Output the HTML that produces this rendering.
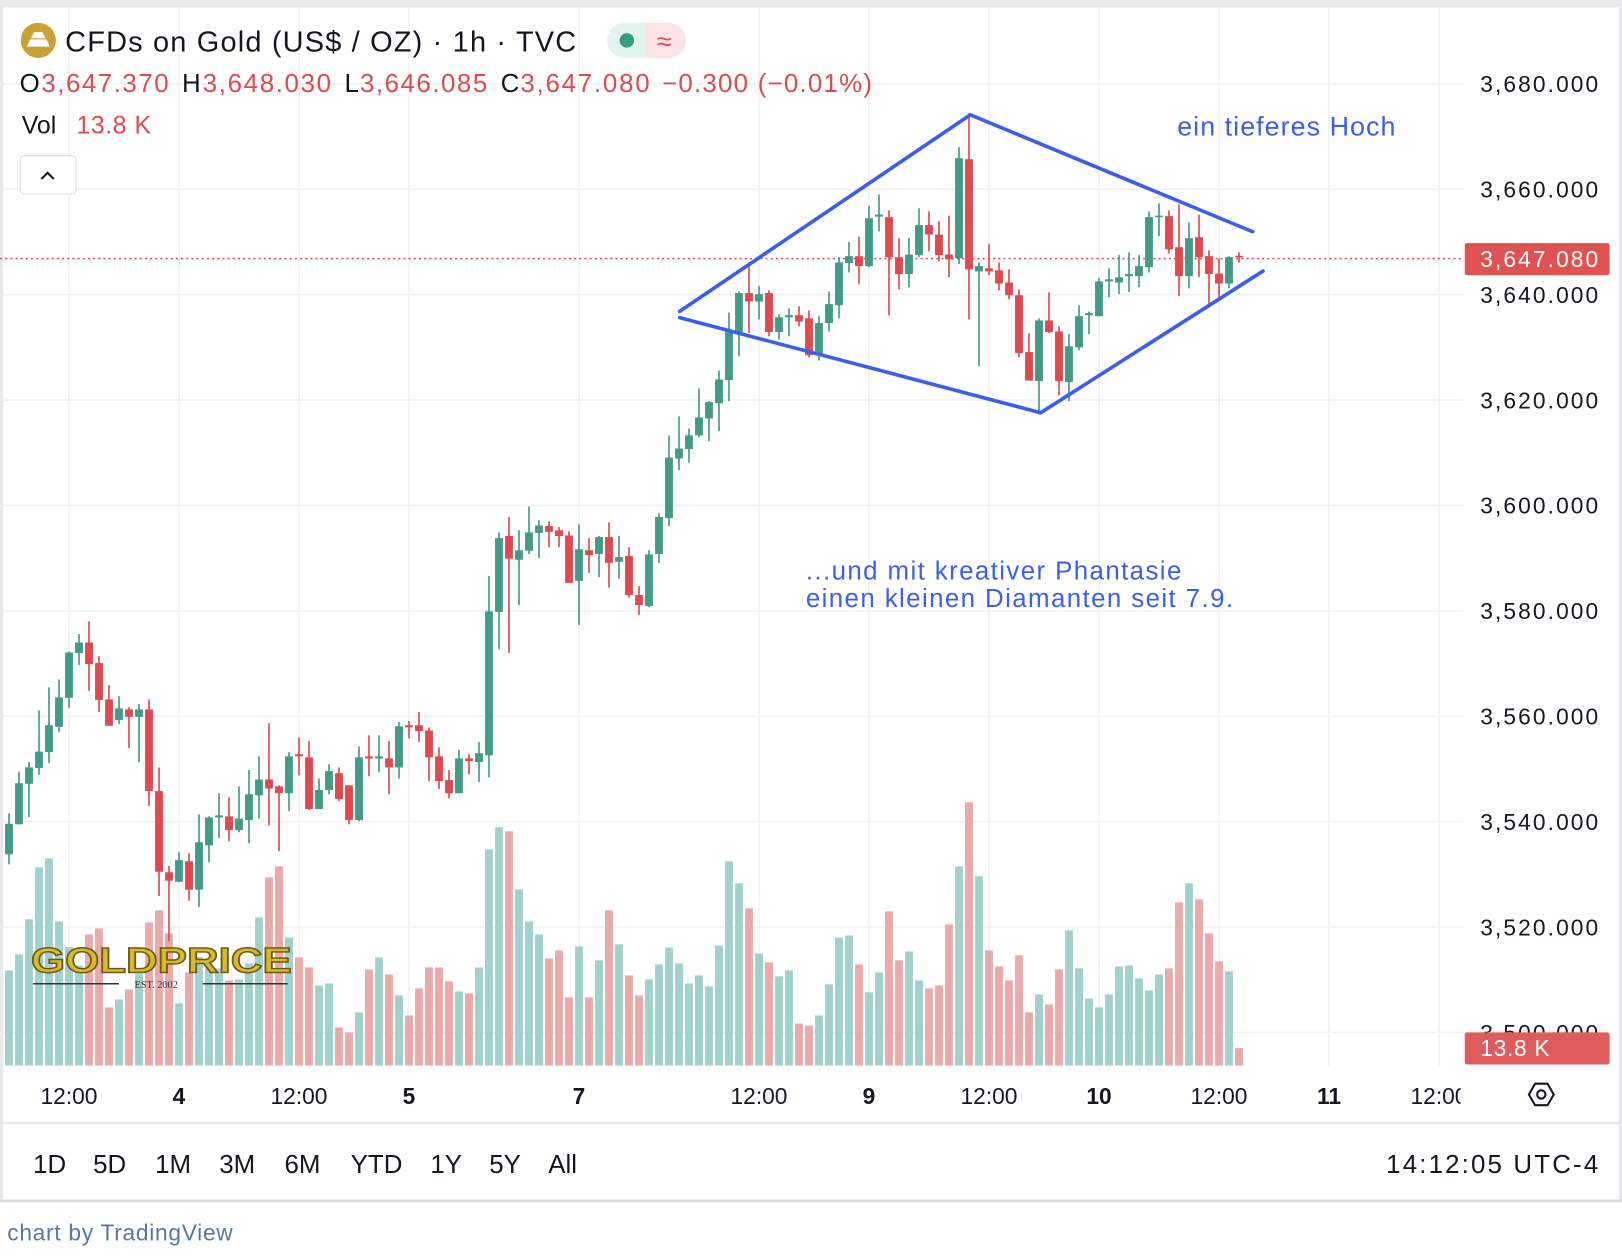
<!DOCTYPE html>
<html><head><meta charset="utf-8"><style>
html,body{margin:0;padding:0;background:#fff;}
svg{display:block;font-family:"Liberation Sans",Arial,sans-serif;}
</style></head><body>
<svg id="chart" width="1622" height="1260" viewBox="0 0 1568 1218" xmlns="http://www.w3.org/2000/svg">
<rect x="0" y="0" width="1568" height="1218" fill="#fff"/>
<rect x="0" y="0" width="1568" height="7" fill="#e9e9ec"/>
<rect x="0" y="0" width="3" height="1162" fill="#e9e9ec"/>
<rect x="1565" y="0" width="3" height="1162" fill="#e9e9ec"/>
<line x1="0" y1="1085.5" x2="1568" y2="1085.5" stroke="#e6e6e9" stroke-width="2"/>
<line x1="0" y1="1161" x2="1568" y2="1161" stroke="#dcdcdf" stroke-width="3"/>
<g id="grid"></g>
<g id="volumes"></g>
<g>
<text x="30" y="940" font-size="34" font-weight="bold" fill="#d8b830" stroke="#6b5a10" stroke-width="1.4" textLength="252" lengthAdjust="spacingAndGlyphs">GOLDPRICE</text>
<line x1="32" y1="951" x2="115" y2="951" stroke="#333" stroke-width="1.5"/>
<line x1="196" y1="951" x2="278" y2="951" stroke="#333" stroke-width="1.5"/>
<text x="130" y="955" font-size="10" font-family="Liberation Serif,serif" fill="#333">EST. 2002</text>
</g>
<line x1="0" y1="250" x2="1415" y2="250" stroke="#e04a4f" stroke-width="1.5" stroke-dasharray="2,3"/>
<g id="candles"></g>
<g stroke="#3a5ff0" stroke-width="3.5" fill="none" stroke-linecap="round">
<polyline points="657,301 938,111 1211,224"/>
<polyline points="657,307 1006,399 1221,262"/>
</g>
<text x="1138" y="131" font-size="26" fill="#3a5ff0" textLength="211">ein tieferes Hoch</text>
<text x="779" y="560" font-size="25" fill="#3a5ff0" textLength="363">...und mit kreativer Phantasie</text>
<text x="779" y="587" font-size="25" fill="#3a5ff0" textLength="413">einen kleinen Diamanten seit 7.9.</text>
<g id="priceaxis"></g>
<g id="timeaxis"></g>
<rect x="1416" y="235" width="140" height="31" rx="2" fill="#e05252"/>
<text x="1545" y="258" font-size="22" fill="#fff" text-anchor="end" textLength="114">3,647.080</text>
<rect x="1416" y="998" width="140" height="31" rx="2" fill="#e05c5c"/>
<text x="1498" y="1021" font-size="22" fill="#fff" text-anchor="end" textLength="67">13.8 K</text>
<g transform="translate(1490,1058)">
<polygon points="-12,0 -6,-10.4 6,-10.4 12,0 6,10.4 -6,10.4" fill="none" stroke="#131722" stroke-width="2"/>
<circle cx="0" cy="0" r="4" fill="none" stroke="#131722" stroke-width="2"/>
</g>
<g>
<circle cx="37" cy="39" r="17" fill="#c9a236"/>
<path d="M26,45 L48,45 L45,38 L29,38 Z M30,37 L44,37 L41,31 L33,31 Z" fill="#fff"/>
<text x="63" y="50" font-size="28" fill="#131722" textLength="494">CFDs on Gold (US$ / OZ) · 1h · TVC</text>
<g>
<rect x="587" y="22" width="76" height="34" rx="17" fill="#fbe2e4"/>
<path d="M624,22 L604,22 A17,17 0 0 0 604,56 L624,56 Z" fill="#e4f3ef"/>
<circle cx="606" cy="39" r="7" fill="#3a9b82"/>
<text x="642" y="49" font-size="26" fill="#e04a4f" text-anchor="middle">≈</text>
</g>
<g font-size="25">
<text x="19" y="89" fill="#131722">O</text><text x="40" y="89" fill="#e04a4f" textLength="123">3,647.370</text>
<text x="176" y="89" fill="#131722">H</text><text x="196" y="89" fill="#e04a4f" textLength="124">3,648.030</text>
<text x="333" y="89" fill="#131722">L</text><text x="348" y="89" fill="#e04a4f" textLength="123">3,646.085</text>
<text x="484" y="89" fill="#131722">C</text><text x="503" y="89" fill="#e04a4f" textLength="125">3,647.080</text>
<text x="640" y="89" fill="#e04a4f" textLength="203">−0.300 (−0.01%)</text>
</g>
<text x="21" y="129" font-size="24" fill="#131722">Vol</text>
<text x="74" y="129" font-size="24" fill="#e04a4f" textLength="72">13.8 K</text>
<rect x="19.5" y="150.5" width="54" height="37" rx="4" fill="#fff" stroke="#d9d9dc"/>
<polyline points="40,173 46,167 52,173" fill="none" stroke="#131722" stroke-width="2"/>
</g>
<g font-size="25" fill="#131722">
<text x="32" y="1134">1D</text>
<text x="90" y="1134">5D</text>
<text x="150" y="1134">1M</text>
<text x="212" y="1134">3M</text>
<text x="275" y="1134">6M</text>
<text x="339" y="1134">YTD</text>
<text x="416" y="1134">1Y</text>
<text x="473" y="1134">5Y</text>
<text x="530" y="1134">All</text>
<text x="1545" y="1134" text-anchor="end" textLength="205">14:12:05 UTC-4</text>
</g>
<text x="7" y="1199" font-size="22" fill="#5279a6" textLength="218">chart by TradingView</text>
</svg>
<script>
const opens=[3533.8,3539.5,3547.2,3550.2,3553.2,3558.0,3563.5,3572.0,3574.0,3570.1,3563.2,3559.3,3561.3,3559.9,3561.3,3545.8,3530.4,3528.6,3532.5,3527.1,3535.5,3540.8,3541.0,3538.4,3540.3,3545.0,3548.0,3546.7,3545.4,3552.8,3552.2,3542.4,3546.0,3549.2,3546.9,3540.3,3552.4,3552.0,3552.0,3550.3,3558.3,3558.3,3557.3,3552.4,3547.9,3545.4,3552.0,3551.3,3552.6,3579.8,3594.2,3589.7,3591.4,3594.8,3596.1,3595.3,3594.3,3585.7,3591.5,3590.8,3594.0,3589.3,3590.4,3583.0,3580.9,3590.8,3597.6,3608.9,3610.7,3613.3,3616.5,3619.4,3623.8,3632.9,3640.3,3638.7,3640.3,3632.9,3635.7,3636.1,3635.5,3628.5,3634.6,3638.0,3646.0,3647.3,3645.4,3654.8,3654.7,3647.1,3643.9,3647.5,3653.2,3651.4,3647.6,3646.9,3665.7,3644.4,3645.0,3644.6,3642.3,3639.9,3629.1,3623.6,3635.1,3633.0,3623.4,3630.0,3636.1,3635.9,3642.5,3642.3,3643.5,3643.5,3645.2,3654.7,3654.9,3649.0,3643.5,3650.9,3647.3,3644.0,3642.1,3647.37];
const highs=[3541.6,3549.5,3551.3,3561.1,3565.5,3567.0,3572.3,3575.6,3578.0,3571.4,3565.9,3563.8,3561.7,3562.3,3563.2,3550.3,3531.6,3534.2,3534.0,3541.4,3541.0,3545.4,3544.6,3546.7,3549.8,3552.4,3558.7,3546.9,3553.2,3556.0,3555.3,3548.2,3550.9,3550.3,3546.9,3554.3,3556.4,3556.4,3555.3,3558.9,3559.1,3560.8,3557.9,3554.1,3549.8,3553.6,3552.8,3555.1,3586.6,3594.9,3597.8,3595.3,3599.8,3597.2,3597.0,3595.9,3595.1,3596.4,3593.8,3594.2,3596.8,3594.2,3592.1,3584.7,3591.5,3598.5,3613.3,3616.9,3614.6,3622.2,3619.8,3625.6,3636.6,3640.6,3646.1,3641.6,3640.8,3636.3,3637.4,3637.8,3637.0,3635.9,3640.6,3647.1,3650.0,3651.0,3656.8,3659.0,3656.0,3650.7,3650.7,3656.4,3655.8,3653.9,3655.0,3668.0,3674.4,3646.1,3649.6,3646.1,3644.8,3641.0,3632.7,3635.5,3640.4,3634.0,3632.5,3638.0,3636.8,3643.1,3645.0,3647.5,3648.0,3647.5,3655.8,3657.3,3656.0,3657.1,3653.7,3655.2,3648.4,3646.9,3647.3,3648.03];
const lows=[3531.9,3539.5,3540.9,3548.9,3551.1,3557.0,3561.6,3569.7,3564.8,3560.8,3558.2,3558.5,3554.0,3551.3,3543.0,3525.9,3517.3,3528.6,3525.0,3523.8,3532.3,3536.9,3536.3,3538.0,3535.9,3540.6,3539.3,3534.4,3542.0,3548.8,3542.2,3542.4,3545.2,3543.9,3539.5,3540.1,3548.6,3549.4,3545.2,3548.2,3555.8,3555.1,3547.7,3546.2,3544.4,3545.4,3549.0,3547.5,3548.4,3572.7,3572.0,3581.1,3590.8,3590.0,3592.1,3592.1,3585.3,3577.3,3587.2,3586.4,3584.4,3586.1,3582.5,3579.2,3580.7,3589.1,3596.1,3606.7,3608.1,3612.9,3612.2,3614.1,3619.8,3628.3,3632.7,3635.3,3632.1,3631.5,3632.1,3634.0,3628.1,3627.5,3633.0,3635.5,3644.2,3642.0,3645.2,3652.0,3636.1,3641.0,3641.4,3647.1,3648.2,3646.3,3643.3,3645.8,3635.3,3626.4,3643.7,3640.8,3639.1,3628.1,3623.7,3617.9,3632.7,3620.9,3619.8,3629.4,3632.5,3635.9,3639.5,3640.1,3640.5,3641.4,3644.2,3651.1,3647.8,3639.7,3641.2,3643.3,3638.2,3639.5,3641.2,3646.085];
const closes=[3539.6,3547.3,3550.3,3553.3,3558.3,3563.6,3572.1,3574.0,3569.9,3563.1,3558.2,3561.5,3559.9,3561.3,3545.8,3530.5,3528.8,3532.7,3527.1,3536.1,3540.8,3541.2,3538.4,3540.6,3545.2,3548.0,3546.3,3545.4,3552.4,3552.4,3542.4,3546.0,3549.6,3544.3,3540.3,3552.2,3552.0,3552.4,3550.3,3558.1,3557.9,3557.2,3552.2,3547.7,3545.4,3552.0,3551.5,3553.0,3579.9,3593.8,3589.9,3591.5,3594.9,3596.2,3595.0,3594.2,3585.3,3591.7,3590.6,3594.0,3589.1,3590.2,3583.0,3581.1,3590.7,3597.8,3609.1,3610.8,3613.3,3616.7,3619.6,3623.9,3633.0,3640.3,3638.7,3640.1,3632.9,3635.7,3636.1,3634.9,3628.5,3634.6,3638.2,3646.1,3647.3,3645.4,3654.5,3655.2,3647.1,3643.9,3647.6,3653.2,3651.4,3647.5,3646.7,3665.9,3644.8,3645.4,3644.4,3642.1,3639.9,3628.9,3623.7,3635.1,3632.9,3623.6,3630.2,3635.9,3636.5,3642.5,3642.9,3643.3,3643.9,3645.4,3654.7,3655.0,3648.6,3643.5,3650.7,3647.1,3643.9,3642.1,3647.1,3647.08];
const volumes=[76.1,88.9,117,158.6,165.8,115.3,94.8,80.1,104.9,109.7,46.5,52.9,60.9,73.4,114.5,124.2,105.7,49.7,74.5,86.8,77.7,77.7,68.1,68.9,81.7,118.5,150.6,159.4,102.5,86.5,78.5,64.1,65.7,30.4,26.4,42.5,76.9,86.5,72.9,56.1,40.1,61.7,78.5,78.5,67.3,59.3,57.7,78.5,173,190.6,187.4,141,115.3,104.9,85.7,92.1,54.5,95.3,54.5,84.1,124.2,96.9,72.1,56.1,68.9,80.9,94.5,81.7,65.7,72.1,63.3,96.1,163.4,145.8,125.8,89.7,82.5,71.3,76.1,33.6,32,40.1,64.9,102.5,104.1,80.9,58.5,74.5,123.4,84.1,91.3,68.1,61.7,64.1,112.9,159.4,210.7,151.4,92.1,79.3,68.1,88.1,42.5,56.9,48.9,76.9,108.1,77.7,53.7,46.5,56.9,79.3,80.1,69.7,60.1,72.9,77.7,130.6,145.8,133,105.7,83.3,75.3,13.9];
const priceTicks=[3680,3660,3640,3620,3600,3580,3560,3540,3520,3500];
const timeTickIdx=[6,17,29,40,57,75,86,98,109,121,132,143];
const timeTickLabels=["12:00","4","12:00","5","7","12:00","9","12:00","10","12:00","11","12:00"];
const timeTickBold=[false,true,false,true,true,false,true,false,true,false,true,false];

const NS="http://www.w3.org/2000/svg";
const PLOT_RIGHT=1415, PLOT_BOTTOM=1030;
function yScale(p){return 81+(3680-p)*5.095;}
function xScale(i){return 8.7+9.667*i;}
function vScale(v){return v*1.208;}
function mk(tag,attrs,parent){const e=document.createElementNS(NS,tag);for(const k in attrs)e.setAttribute(k,attrs[k]);parent.appendChild(e);return e;}

const grid=document.getElementById('grid');
const pa=document.getElementById('priceaxis');
priceTicks.forEach(p=>{
  const y=yScale(p);
  const l=mk('line',{x1:0,x2:PLOT_RIGHT,y1:y,y2:y,stroke:'#f0f0f2','stroke-width':1.5},grid);
  
  
  const t=mk('text',{x:1545,y:y+8,'font-size':22,fill:'#131722','text-anchor':'end',textLength:114},pa);
  
  
  t.textContent=p.toLocaleString('en-US',{minimumFractionDigits:3,maximumFractionDigits:3});
});
const ta=document.getElementById('timeaxis');
const clip=mk('clipPath',{id:'taclip'},ta);
mk('rect',{x:0,y:1035,width:1412,height:50},clip);
timeTickIdx.forEach((idx,k)=>{
  const x=xScale(idx);
  if(x<PLOT_RIGHT){
    const l=mk('line',{x1:x,x2:x,y1:7,y2:PLOT_BOTTOM,stroke:'#f0f0f2','stroke-width':1.5},grid);
    
    
  }
  const t=mk('text',{x:x,y:1067,'font-size':22,fill:'#131722','text-anchor':'middle','clip-path':'url(#taclip)','font-weight':timeTickBold[k]?'bold':'normal'},ta);
  
  
  t.textContent=timeTickLabels[k];
});

const vg=document.getElementById('volumes');
volumes.forEach((v,i)=>{
  const up=closes[i]>=opens[i];
  const h=vScale(v);
  const r=mk('rect',{x:xScale(i)-3.8,y:PLOT_BOTTOM-h,width:7.6,height:h,fill:up?'#a1d1cc':'#eaaaa9'},vg);
  
  
});

const cg=document.getElementById('candles');
opens.forEach((o,i)=>{
  const c=closes[i],up=c>=o,col=up?'#439a86':'#e04a4f';
  const x=xScale(i);
  const g=mk('g',{},cg);
  
  
  const yh=yScale(highs[i]),yl=yScale(lows[i]);
  mk('rect',{x:x-0.8,y:yh,width:1.6,height:Math.max(1,yl-yh),fill:col},g);
  const yt=yScale(Math.max(o,c)),yb=yScale(Math.min(o,c));
  mk('rect',{x:x-3.8,y:yt,width:7.6,height:Math.max(1.5,yb-yt),fill:col},g);
});
</script>
</body></html>
